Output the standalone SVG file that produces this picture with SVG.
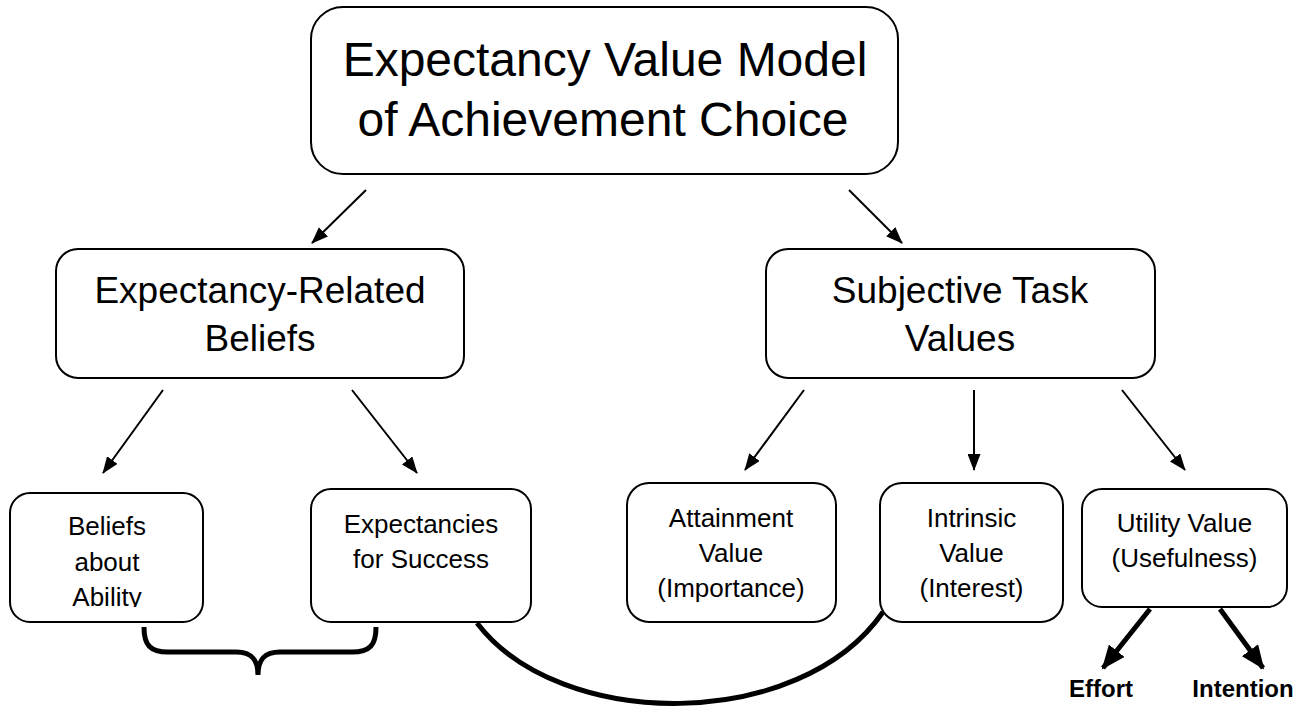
<svg xmlns="http://www.w3.org/2000/svg" width="1311" height="706" viewBox="0 0 1311 706">
<style>
.box{fill:#fff;stroke:#000;stroke-width:2}
.t{font-family:"Liberation Sans",Arial,sans-serif;fill:#000;text-anchor:middle}
.t48{font-size:48px}
.t37{font-size:37px}
.t26{font-size:26px}
.lbl{font-family:"Liberation Sans",Arial,sans-serif;font-weight:bold;font-size:24px;fill:#000;text-anchor:middle}
.thin{stroke:#000;stroke-width:2;fill:none;marker-end:url(#ah)}
.thick{stroke:#000;stroke-width:5;fill:none;marker-end:url(#ahb)}
.heavy{stroke:#000;stroke-width:5;fill:none;stroke-linecap:butt}
</style>
<defs>
<marker id="ah" viewBox="0 0 17 13" refX="16" refY="6.5" markerWidth="17" markerHeight="13" markerUnits="userSpaceOnUse" orient="auto">
<path d="M0,0 L17,6.5 L0,13 z" fill="#000"/>
</marker>
<marker id="ahb" viewBox="0 0 24 20" refX="22" refY="10" markerWidth="24" markerHeight="20" markerUnits="userSpaceOnUse" orient="auto">
<path d="M0,0 L24,10 L0,20 z" fill="#000"/>
</marker>
<clipPath id="clipAbility"><rect x="10" y="493" width="193" height="114"/></clipPath>
</defs>
<rect width="1311" height="706" fill="#fff"/>

<g id="connectors">
<line class="thin" x1="366" y1="190" x2="312" y2="243"/>
<line class="thin" x1="849" y1="190" x2="902" y2="243"/>
<line class="thin" x1="163" y1="390" x2="103" y2="473"/>
<line class="thin" x1="352" y1="390" x2="417" y2="473"/>
<line class="thin" x1="804" y1="390" x2="745" y2="470"/>
<line class="thin" x1="974" y1="390" x2="974" y2="470"/>
<line class="thin" x1="1122" y1="390" x2="1185" y2="470"/>
<line class="thick" x1="1150" y1="609" x2="1103" y2="668"/>
<line class="thick" x1="1220" y1="609" x2="1263" y2="668"/>
<path class="heavy" d="M144,627 C144,645 150,652 168,652 L236,652 C252,652 258,660 258,675 C258,660 264,652 280,652 L352,652 C370,652 376,645 376,627"/>
<path class="heavy" d="M477,623 C560,732 800,732 883,612"/>
</g>

<g id="top">
<rect class="box" x="311" y="7" width="587" height="167" rx="32"/>
<text class="t t48" x="605" y="76">Expectancy Value Model</text>
<text class="t t48" x="603" y="136">of Achievement Choice</text>
</g>

<g id="expectancy-beliefs">
<rect class="box" x="56" y="249" width="408" height="129" rx="22"/>
<text class="t t37" x="260" y="303">Expectancy-Related</text>
<text class="t t37" x="260" y="351">Beliefs</text>
</g>

<g id="task-values">
<rect class="box" x="766" y="249" width="389" height="129" rx="22"/>
<text class="t t37" x="960" y="303">Subjective Task</text>
<text class="t t37" x="960" y="351">Values</text>
</g>

<g id="beliefs-ability">
<rect class="box" x="10" y="493" width="193" height="129" rx="20"/>
<text class="t t26" x="107" y="535">Beliefs</text>
<text class="t t26" x="107" y="571">about</text>
<text class="t t26" x="107" y="606" clip-path="url(#clipAbility)">Ability</text>
</g>

<g id="expectancies-success">
<rect class="box" x="311" y="489" width="220" height="133" rx="20"/>
<text class="t t26" x="421" y="533">Expectancies</text>
<text class="t t26" x="421" y="568">for Success</text>
</g>

<g id="attainment">
<rect class="box" x="627" y="483" width="209" height="139" rx="22"/>
<text class="t t26" x="731" y="527">Attainment</text>
<text class="t t26" x="731" y="562">Value</text>
<text class="t t26" x="731" y="597">(Importance)</text>
</g>

<g id="intrinsic">
<rect class="box" x="880" y="483" width="183" height="139" rx="22"/>
<text class="t t26" x="971.5" y="527">Intrinsic</text>
<text class="t t26" x="971.5" y="562">Value</text>
<text class="t t26" x="971.5" y="597">(Interest)</text>
</g>

<g id="utility">
<rect class="box" x="1082" y="489" width="205" height="118" rx="20"/>
<text class="t t26" x="1184.5" y="532">Utility Value</text>
<text class="t t26" x="1184.5" y="567">(Usefulness)</text>
</g>

<g id="effort">
<text class="lbl" x="1101" y="697">Effort</text>
</g>
<g id="intention">
<text class="lbl" x="1243" y="697">Intention</text>
</g>
</svg>
